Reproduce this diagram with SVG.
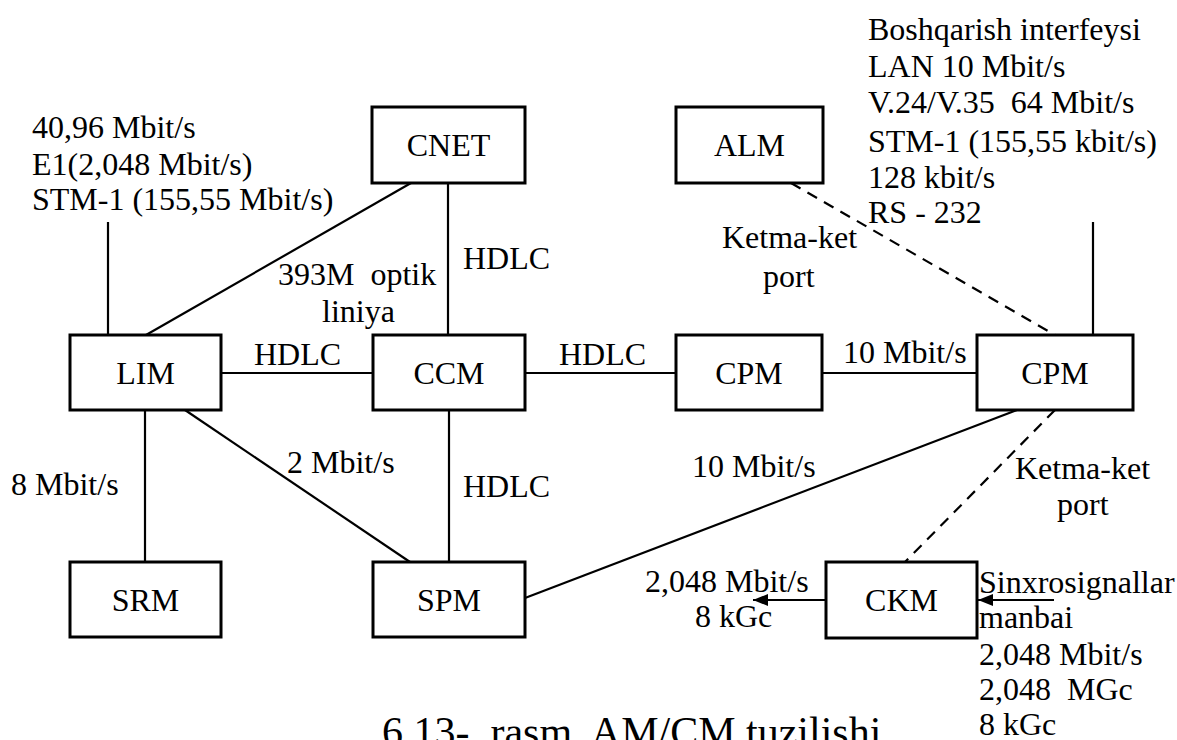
<svg xmlns="http://www.w3.org/2000/svg" width="1177" height="740" viewBox="0 0 1177 740">
<defs>
<style>
text { font-family: "Liberation Serif", "Times New Roman", Times, serif; font-size: 32px; fill: #000; }
.box { fill: #fff; stroke: #000; stroke-width: 3; }
.lbl { text-anchor: middle; }
.ln { stroke: #000; stroke-width: 2.2; fill: none; }
.dash { stroke: #000; stroke-width: 2.2; fill: none; stroke-dasharray: 11 8; }
.cap { font-size: 42px; }
</style>
<marker id="arr" viewBox="0 0 15 12" refX="15" refY="6" markerWidth="15" markerHeight="12" markerUnits="userSpaceOnUse" orient="auto">
<path d="M0,0 L15,6 L0,12 z" fill="#000"/>
</marker>
</defs>
<rect width="1177" height="740" fill="#fff"/>
<g id="connectors">
<line class="ln" x1="108" y1="222" x2="108" y2="335"/>
<line class="ln" x1="146" y1="335" x2="411" y2="183"/>
<line class="ln" x1="448" y1="183" x2="448" y2="335"/>
<line class="ln" x1="221" y1="373" x2="373" y2="373"/>
<line class="ln" x1="525" y1="373" x2="676" y2="373"/>
<line class="ln" x1="822" y1="373" x2="977" y2="373"/>
<line class="ln" x1="145" y1="410" x2="145" y2="562"/>
<line class="ln" x1="185" y1="410" x2="410" y2="562"/>
<line class="ln" x1="449" y1="410" x2="449" y2="562"/>
<line class="ln" x1="525" y1="598" x2="1017" y2="410"/>
<line class="dash" x1="791" y1="183" x2="1055" y2="335"/>
<line class="ln" x1="1093" y1="222" x2="1093" y2="335"/>
<line class="dash" x1="1055" y1="410" x2="905" y2="562"/>
<line class="ln" x1="826" y1="600" x2="753" y2="600" marker-end="url(#arr)"/>
<line class="ln" x1="1054" y1="600" x2="978" y2="600" marker-end="url(#arr)"/>
</g>
<g id="node-cnet"><rect class="box" x="372" y="107" width="153" height="76"/><text class="lbl" x="448.5" y="156">CNET</text></g>
<g id="node-alm"><rect class="box" x="676" y="107" width="147" height="76"/><text class="lbl" x="749.5" y="156">ALM</text></g>
<g id="node-lim"><rect class="box" x="70" y="335" width="151" height="75"/><text class="lbl" x="145.5" y="384">LIM</text></g>
<g id="node-ccm"><rect class="box" x="373" y="335" width="152" height="75"/><text class="lbl" x="449" y="384">CCM</text></g>
<g id="node-cpm1"><rect class="box" x="676" y="335" width="146" height="75"/><text class="lbl" x="749" y="384">CPM</text></g>
<g id="node-cpm2"><rect class="box" x="977" y="335" width="156" height="75"/><text class="lbl" x="1055" y="384">CPM</text></g>
<g id="node-srm"><rect class="box" x="70" y="562" width="151" height="75"/><text class="lbl" x="145.5" y="611">SRM</text></g>
<g id="node-spm"><rect class="box" x="373" y="562" width="152" height="75"/><text class="lbl" x="449" y="611">SPM</text></g>
<g id="node-ckm"><rect class="box" x="826" y="562" width="151" height="76"/><text class="lbl" x="901.5" y="611">CKM</text></g>
<g id="labels">
<text x="32" y="138">40,96 Mbit/s</text>
<text x="32" y="175">E1(2,048 Mbit/s)</text>
<text x="32" y="210">STM-1 (155,55 Mbit/s)</text>
<text x="868" y="40">Boshqarish interfeysi</text>
<text x="868" y="77">LAN 10 Mbit/s</text>
<text x="868" y="113" xml:space="preserve">V.24/V.35  64 Mbit/s</text>
<text x="868" y="152">STM-1 (155,55 kbit/s)</text>
<text x="868" y="188">128 kbit/s</text>
<text x="868" y="223">RS - 232</text>
<text x="463" y="269">HDLC</text>
<text x="278" y="285" xml:space="preserve">393M  optik</text>
<text x="322" y="322">liniya</text>
<text x="722" y="248">Ketma-ket</text>
<text x="763" y="287">port</text>
<text x="254" y="365">HDLC</text>
<text x="559" y="365">HDLC</text>
<text x="843" y="363">10 Mbit/s</text>
<text x="11" y="495">8 Mbit/s</text>
<text x="287" y="473">2 Mbit/s</text>
<text x="463" y="497">HDLC</text>
<text x="692" y="477">10 Mbit/s</text>
<text x="1015" y="479">Ketma-ket</text>
<text x="1057" y="515">port</text>
<text x="645" y="592">2,048 Mbit/s</text>
<text x="695" y="627">8 kGc</text>
<text x="979" y="593">Sinxrosignallar</text>
<text x="979" y="628">manbai</text>
<text x="979" y="665">2,048 Mbit/s</text>
<text x="979" y="700" xml:space="preserve">2,048  MGc</text>
<text x="979" y="735">8 kGc</text>
<text class="cap" x="382" y="746" xml:space="preserve">6.13-  rasm. AM/CM tuzilishi</text>
</g>
</svg>
